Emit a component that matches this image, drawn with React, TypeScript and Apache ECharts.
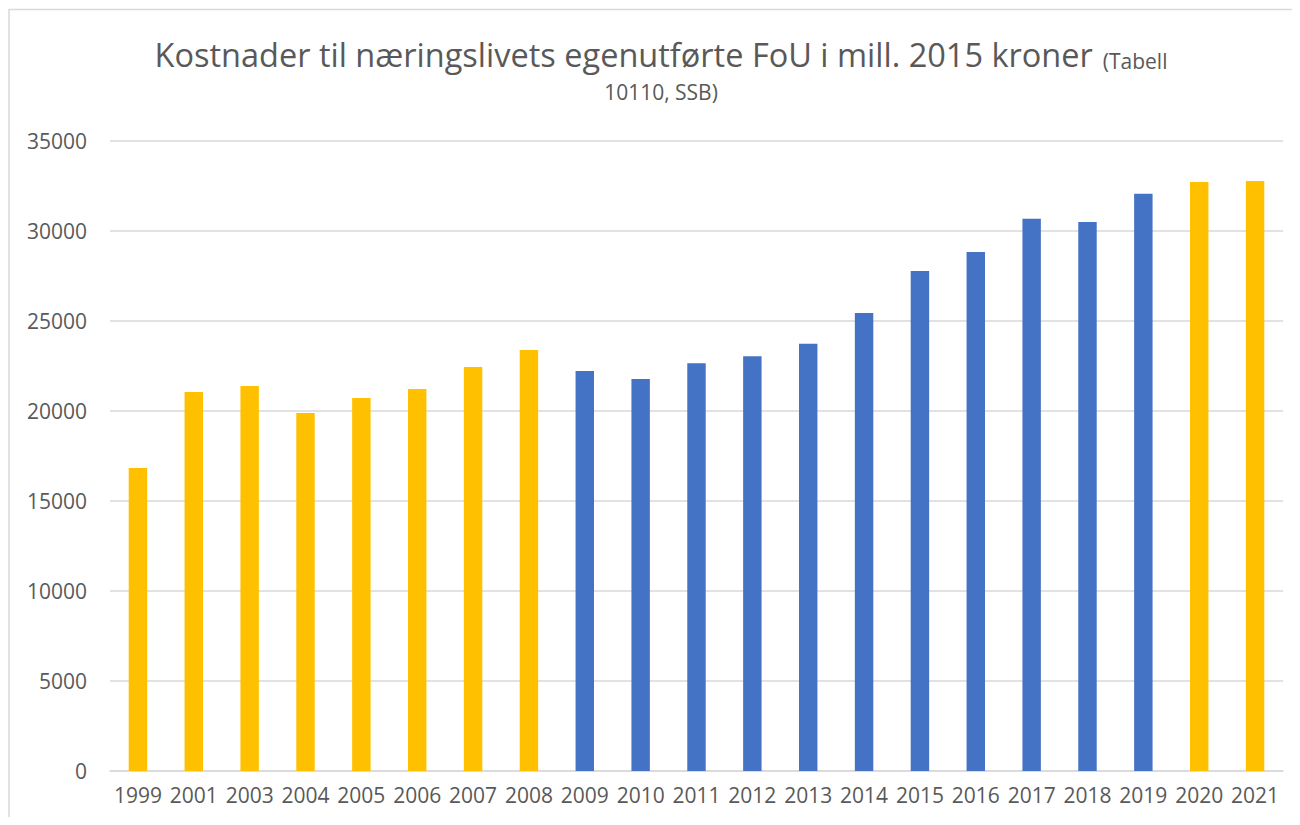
import React, { useEffect, useRef } from "react";
import * as echarts from "echarts";

const years = ["1999","2001","2003","2004","2005","2006","2007","2008","2009","2010","2011","2012","2013","2014","2015","2016","2017","2018","2019","2020","2021"];
const costs = [16830,21060,21390,19890,20720,21220,22440,23390,22220,21780,22650,23040,23740,25440,27780,28830,30680,30500,32070,32720,32780];
const highlightedYears = ["1999","2001","2003","2004","2005","2006","2007","2008","2020","2021"];
const titleMain = "Kostnader til næringslivets egenutførte FoU i mill. 2015 kroner";
const titleSource1 = "(Tabell";
const titleSource2 = "10110, SSB)";

const YELLOW = "#FFC000";
const BLUE = "#4472C4";
const TEXT = "#595959";
const FONT = "'Open Sans', sans-serif";

export default function App() {
  const ref = useRef<HTMLDivElement>(null);
  useEffect(() => {
    if (!ref.current) return;
    const chart = echarts.init(ref.current, undefined, { renderer: "svg" });
    chart.setOption({
      animation: false,
      textStyle: { fontFamily: FONT },
      graphic: [
        {
          type: "rect",
          shape: { x: 1, y: 1.5, width: 1400, height: 1000 },
          style: { fill: "none", stroke: "#d9d9d9", lineWidth: 1.5 },
          silent: true,
        },
        {
          type: "text",
          x: 653,
          y: 25,
          style: {
            text: "{a|" + titleMain + "}{s| }{b|" + titleSource1 + "}",
            textAlign: "center",
            rich: {
              a: { fontSize: 32.5, fontFamily: FONT, fill: TEXT, verticalAlign: "bottom", lineHeight: 38 },
              s: { fontSize: 21, fontFamily: FONT, width: 10, verticalAlign: "bottom", lineHeight: 28 },
              b: { fontSize: 21, fontFamily: FONT, fill: TEXT, verticalAlign: "bottom", lineHeight: 28 },
            },
          },
        },
        {
          type: "text",
          x: 653,
          y: 73,
          style: {
            text: titleSource2,
            textAlign: "center",
            fontSize: 21,
            fontFamily: FONT,
            fill: TEXT,
          },
        },
      ],
      grid: { left: 102, right: 9, top: 133, bottom: 46, containLabel: false },
      xAxis: {
        type: "category",
        data: years,
        axisLine: { lineStyle: { color: "#d9d9d9", width: 1.5 } },
        axisTick: { show: false },
        axisLabel: { color: TEXT, fontSize: 21, fontFamily: FONT, margin: 13, interval: 0 },
      },
      yAxis: {
        type: "value",
        min: 0,
        max: 35000,
        interval: 5000,
        axisLine: { show: false },
        axisTick: { show: false },
        splitLine: { lineStyle: { color: "#d9d9d9", width: 1.5 } },
        axisLabel: { color: TEXT, fontSize: 21, fontFamily: FONT, margin: 23, formatter: (v: number) => String(v) },
      },
      series: [
        {
          type: "bar",
          barWidth: "33%",
          data: costs.map((v, i) => ({
            value: v,
            itemStyle: { color: highlightedYears.includes(years[i]) ? YELLOW : BLUE },
          })),
        },
      ],
    });
    return () => chart.dispose();
  }, []);
  return <div ref={ref} style={{ width: "100%", height: 809 }} />;
}
